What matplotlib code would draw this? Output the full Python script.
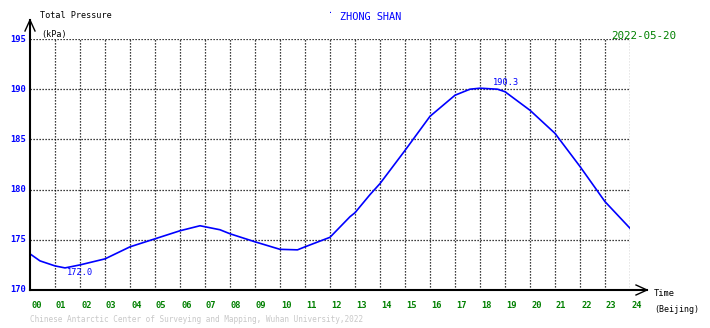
import matplotlib
matplotlib.use('Agg')
import matplotlib.pyplot as plt

# hourly readings (Beijing time), total pressure in kPa
hours = [0, 0.4, 1, 1.4, 2, 3, 4, 5, 6, 6.8, 7, 7.6, 8, 9, 10, 10.7, 11, 12,
         12.8, 13, 13.6, 14, 15, 16, 17, 17.6, 18, 18.7, 19, 20, 21, 22, 23, 24]
pressure = [173.6, 172.9, 172.4, 172.2, 172.5, 173.1, 174.3, 175.1, 175.9, 176.4,
            176.3, 176.0, 175.6, 174.8, 174.05, 174.0, 174.3, 175.25, 177.3, 177.7,
            179.5, 180.6, 183.9, 187.3, 189.4, 190.0, 190.1, 190.0, 189.75, 187.9,
            185.6, 182.3, 178.8, 176.15]

x_ticks = list(range(0, 25))
x_labels = ['%02d' % h for h in x_ticks]
y_ticks = [170, 175, 180, 185, 190, 195]

min_label = ('172.0', 2.0, 171.75)
max_label = ('190.3', 19.05, 190.65)

station = 'ZHONG SHAN'
date = '2022-05-20'
footer = 'Chinese Antarctic Center of Surveying and Mapping, Wuhan University,2022'

W, H = 710, 328
fig = plt.figure(figsize=(W / 100, H / 100), dpi=100)
fig.patch.set_facecolor('white')
ax = fig.add_axes([30 / W, 38 / H, 600 / W, 251 / H])
mono = 'DejaVu Sans Mono'

ax.plot(hours, pressure, color='#0000ff', lw=1.2, solid_joinstyle='round')

ax.set_xlim(0, 24)
ax.set_ylim(170, 195)
for s in ax.spines.values():
	s.set_visible(False)
ax.set_xticks([])
ax.set_yticks([])

# dotted grid
for h in x_ticks[1:]:
	ax.plot([h, h], [170, 195], color='black', lw=0.9, ls=(0, (1, 1.4)), zorder=0)
for p in y_ticks[1:]:
	ax.plot([0, 24], [p, p], color='black', lw=0.9, ls=(0, (1, 1.4)), zorder=0)

# axes with arrows (pixel coordinates)
def px(x, y):
	return (x / W, 1 - y / H)

fig.add_artist(plt.Line2D([30 / W, 30 / W], [1 - 290 / H, 1 - 20 / H], color='black', lw=1.5))
fig.add_artist(plt.Line2D([25 / W, 30 / W, 35 / W], [1 - 31 / H, 1 - 20 / H, 1 - 31 / H], color='black', lw=1.0))
fig.add_artist(plt.Line2D([30 / W, 647 / W], [1 - 290 / H, 1 - 290 / H], color='black', lw=1.5))
fig.add_artist(plt.Line2D([636 / W, 647 / W, 636 / W], [1 - 285 / H, 1 - 290 / H, 1 - 295 / H], color='black', lw=1.0))

# tick labels
for h, lab in zip(x_ticks, x_labels):
	ax.text(h + 0.04, 168.9, lab, color='#008000', fontsize=6.3, family=mono,
		ha='left', va='top', fontweight='bold')
for p in y_ticks:
	fig.text(26 / W, 1 - (290 - (p - 170) * 251 / 25) / H, str(p), color='#0000ff',
		fontsize=6.3, family=mono, ha='right', va='center', fontweight='bold')

# extreme labels
ax.text(min_label[1], min_label[2], min_label[0], color='#0000ff', fontsize=6.2,
	family=mono, ha='center', va='center')
ax.text(max_label[1], max_label[2], max_label[0], color='#0000ff', fontsize=6.2,
	family=mono, ha='center', va='center')

# titles and captions
fig.text(*px(40, 16), 'Total Pressure', fontsize=6.1, family=mono, ha='left', va='center')
fig.text(*px(41, 34), '(kPa)', fontsize=6.1, family=mono, ha='left', va='center')
fig.text(*px(330, 15), '.', color='#0000ff', fontsize=6, family=mono, ha='center', va='bottom')
fig.text(*px(340, 17), station, color='#0000ff', fontsize=7.4, family=mono, ha='left', va='center')
fig.text(*px(611, 36), date, color='#008000', fontsize=7.8, family=mono, ha='left', va='center')
fig.text(*px(654, 294), 'Time', fontsize=6.3, family=mono, ha='left', va='center')
fig.text(*px(654, 310), '(Beijing)', fontsize=6.0, family=mono, ha='left', va='center')
fig.text(*px(30, 320), footer, color='#c8c8c8', fontsize=5.6, family=mono, ha='left', va='center')

fig.savefig('out.png', dpi=100)
